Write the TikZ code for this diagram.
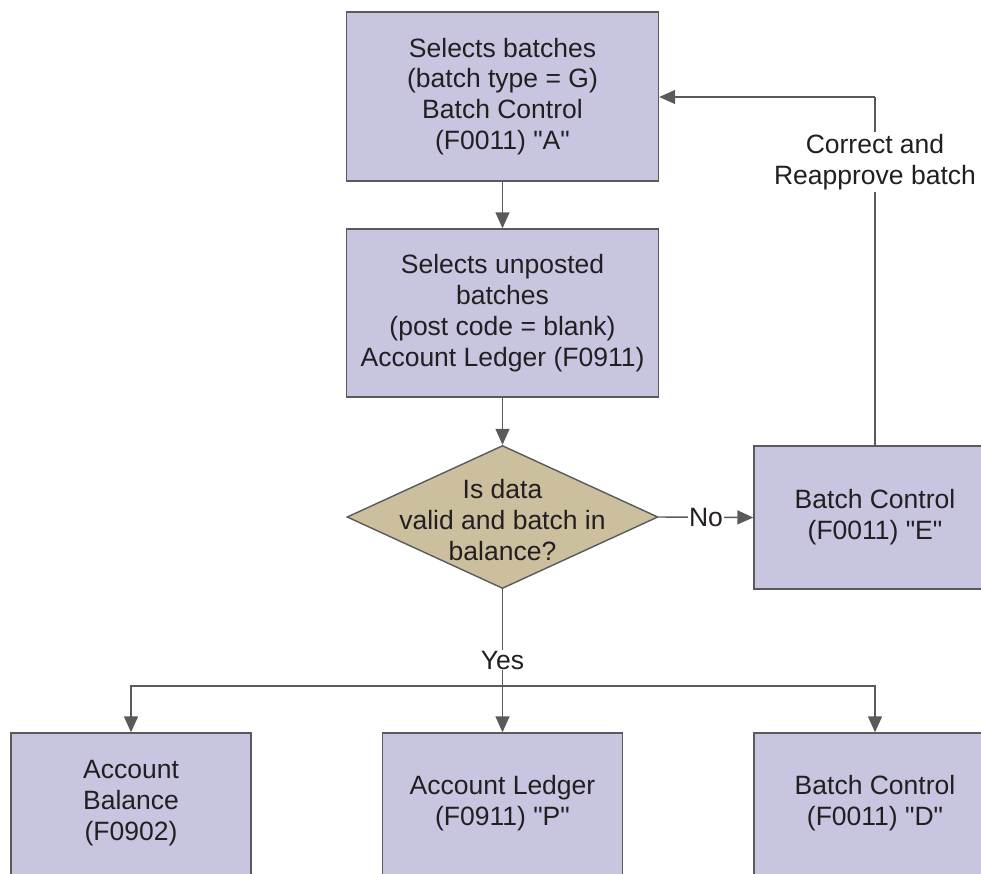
\documentclass[tikz,border=0pt]{standalone}
\usepackage{fontspec}
\setmainfont{Liberation Sans}[Ligatures=TeXOff]
\usetikzlibrary{shapes.geometric,arrows.meta}
\definecolor{boxfill}{HTML}{C8C5E1}
\definecolor{diafill}{HTML}{CBBF9E}
\definecolor{edge}{HTML}{5A5A5C}
\definecolor{ink}{HTML}{231F20}
\tikzset{
  x=1pt,y=-1pt,
  every node/.style={font=\fontsize{26.5}{30.8}\selectfont, text=ink, align=center},
  procbox/.style={draw=edge, line width=1.4pt, fill=boxfill, rectangle, inner sep=0pt},
  dia/.style={draw=edge, line width=1.4pt, fill=diafill, diamond, inner sep=0pt, minimum width=311pt, minimum height=143pt},
  arr/.style={draw=edge, line width=1.4pt, -{Triangle[length=16pt,width=14pt]}},
  plain/.style={draw=edge, line width=1.4pt},
  lbl/.style={fill=white, inner sep=2pt}
}
\begin{document}
\begin{tikzpicture}
\useasboundingbox (0,0) rectangle (981,873);
\node[procbox, minimum width=312pt, minimum height=169pt] (A) at (502.5,96.5)
  {Selects batches\\(batch type = G)\\Batch Control\\(F0011) "A"};
\node[procbox, minimum width=312pt, minimum height=168pt] (B) at (502.5,313)
  {Selects unposted\\batches\\(post code = blank)\\Account Ledger (F0911)};
\node[dia] (D) at (502.5,517) {};
\node (Dt) at (502.5,520) {Is data\\valid and batch in\\balance?};
\node[procbox, minimum width=242pt, minimum height=143pt] (E) at (875,517.5)
  {Batch Control\\(F0011) "E"};
\node[procbox, minimum width=240pt, minimum height=147pt] (L) at (131,806.5) {};
\node (Lt) at (131,803) {Account\\Balance\\(F0902)};
\node[procbox, minimum width=240pt, minimum height=147pt] (M) at (502.5,806.5) {};
\node (Mt) at (502.5,803) {Account Ledger\\(F0911) "P"};
\node[procbox, minimum width=242pt, minimum height=147pt] (R) at (875,806.5) {};
\node (Rt) at (875,803) {Batch Control\\(F0011) "D"};
% connectors
\draw[arr] (A.south) -- (B.north);
\draw[arr] (B.south) -- (D.north);
\coordinate (T) at (875,97);
\draw[plain] (E.north) -- (T);
\draw[arr] (T) -- (A.east |- T);
\node[lbl] (C) at (875,162) {Correct and\\Reapprove batch};
\draw[arr] (D.east) -- node[lbl, inner sep=1.5pt] (No) {No} (E.west);
\coordinate (J) at (502.5,686);
\draw[arr] (D.south) -- (M.north);
\node[lbl, inner sep=1pt] (Y) at (502.5,660) {Yes};
\draw[arr] (J) -| (L.north);
\draw[arr] (J) -| (R.north);
\end{tikzpicture}
\end{document}
